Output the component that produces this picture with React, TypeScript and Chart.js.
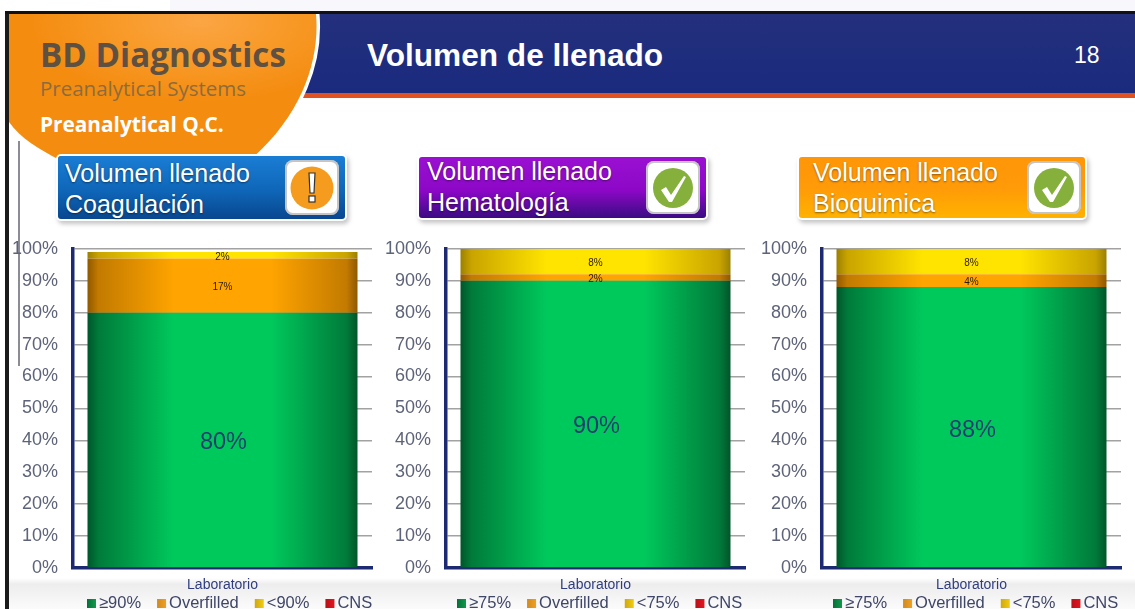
import React, { useEffect, useRef } from "react";
import { Chart, registerables } from "chart.js";

Chart.register(...registerables);

const FONT = '"Liberation Sans", Arial, sans-serif';

const categories = ["Laboratorio"];
const yMax = 100;
const yStep = 10;

const seriesCoag = [80, 17, 2, 0];
const seriesHema = [90, 2, 8, 0];
const seriesBio = [88, 4, 8, 0];

const legendCoag = ["≥90%", "Overfilled", "<90%", "CNS"];
const legendHema = ["≥75%", "Overfilled", "<75%", "CNS"];
const legendBio = ["≥75%", "Overfilled", "<75%", "CNS"];

const panelTitles = ["Coagulación", "Hematología", "Bioquimica"];

const barRim = ["#00552a", "#8f5800", "#9a8000", "#7a0000"];
const barEdge = ["#007a3a", "#c27a00", "#c9a400", "#aa0000"];
const barMid = ["#00c95c", "#ffa400", "#ffe400", "#ee1111"];
const boxDark = ["#06703a", "#d08a20", "#cfa810", "#b81018"];
const boxColors = ["#0f9a4a", "#f0a020", "#f0cc10", "#e41420"];

const BAR_PCT = 0.903;

function barGradient(ctx: any, idx: number) {
  const area = ctx.chart.chartArea;
  if (!area) return barMid[idx];
  const w = (area.right - area.left) * BAR_PCT;
  const c = (area.left + area.right) / 2;
  const g = ctx.chart.ctx.createLinearGradient(c - w / 2, 0, c + w / 2, 0);
  g.addColorStop(0, barRim[idx]);
  g.addColorStop(0.04, barEdge[idx]);
  g.addColorStop(0.32, barMid[idx]);
  g.addColorStop(0.68, barMid[idx]);
  g.addColorStop(0.96, barEdge[idx]);
  g.addColorStop(1, barRim[idx]);
  return g;
}

const valueLabels = {
  id: "valueLabels",
  afterDatasetsDraw(chart: any) {
    const { ctx } = chart;
    ctx.save();
    ctx.textAlign = "center";
    ctx.textBaseline = "middle";
    chart.data.datasets.forEach((ds: any, i: number) => {
      const v = ds.data[0];
      if (!v) return;
      const el = chart.getDatasetMeta(i).data[0];
      const mid = (el.y + el.base) / 2;
      if (i === 0) {
        ctx.font = `23.5px ${FONT}`;
        ctx.fillStyle = "#1c3f70";
        ctx.fillText(`${v}%`, el.x + 1, mid + 3);
      } else {
        ctx.font = `10px ${FONT}`;
        ctx.fillStyle = "#2a1c00";
        ctx.fillText(`${v}%`, el.x, mid + 2);
      }
    });
    ctx.restore();
  },
};

const bottomLegend = {
  id: "bottomLegend",
  afterDraw(chart: any, _a: any, opts: any) {
    const { ctx, chartArea } = chart;
    ctx.save();
    ctx.font = `16.5px ${FONT}`;
    ctx.textBaseline = "middle";
    ctx.textAlign = "left";
    let x = chartArea.left + opts.offset;
    const y = chart.height - 6;
    chart.data.datasets.forEach((ds: any, i: number) => {
      const g = ctx.createLinearGradient(x, 0, x + 9, 0);
      g.addColorStop(0, boxDark[i]);
      g.addColorStop(1, boxColors[i]);
      ctx.fillStyle = g;
      ctx.fillRect(x, y - 4, 9, 9);
      x += 12;
      ctx.fillStyle = "#3f4668";
      ctx.fillText(ds.label, x, y);
      x += ctx.measureText(ds.label).width + 16;
    });
    ctx.restore();
  },
};

function StackChart({
  values,
  legend,
  left,
  legendOffset,
}: {
  values: number[];
  legend: string[];
  left: number;
  legendOffset: number;
}) {
  const ref = useRef<HTMLCanvasElement>(null);
  useEffect(() => {
    const chart = new Chart(ref.current as HTMLCanvasElement, {
      type: "bar",
      data: {
        labels: categories,
        datasets: legend.map((label, i) => ({
          label,
          data: [values[i]],
          backgroundColor: (ctx: any) => barGradient(ctx, i),
          borderWidth: 0,
          barPercentage: BAR_PCT,
          categoryPercentage: 1,
        })),
      },
      options: {
        animation: false,
        responsive: false,
        devicePixelRatio: 1,
        layout: { padding: { top: 2, right: 8, left: 0, bottom: 0 } },
        plugins: {
          legend: { display: false },
          tooltip: { enabled: false },
          bottomLegend: { offset: legendOffset },
        } as any,
        scales: {
          x: {
            stacked: true,
            afterFit: (s: any) => {
              s.height = 41;
            },
            grid: { display: false, drawTicks: false },
            border: { color: "#1d2a72", width: 3.5 },
            ticks: { display: false },
            title: {
              display: true,
              text: categories[0],
              color: "#2f3d80",
              font: { family: FONT, size: 14 },
              padding: { top: 0, bottom: 15.6 },
            },
          },
          y: {
            stacked: true,
            min: 0,
            max: yMax,
            afterFit: (s: any) => {
              s.width = 73;
            },
            grid: { color: "#a2a2a2", lineWidth: 1.5, drawTicks: false },
            border: { color: "#1d2a72", width: 3.5 },
            ticks: {
              stepSize: yStep,
              padding: 15,
              color: "#5d6378",
              font: { family: FONT, size: 18 },
              callback: (v: any) => `${v}%`,
            },
          },
        },
      },
      plugins: [valueLabels, bottomLegend],
    } as any);
    return () => chart.destroy();
  }, []);
  return (
    <canvas
      ref={ref}
      width={380}
      height={386}
      style={{ position: "absolute", left, top: 223, width: 380, height: 386 }}
    />
  );
}

function Check() {
  return (
    <svg width="40" height="40" viewBox="0 0 40 40" style={{ display: "block" }}>
      <circle cx="20" cy="20" r="20" fill="#86b03c" />
      <path d="M8 22 L13 19 L18 27 L31 8 L33 9 L19 34 L16 34 Z" fill="#fff" />
    </svg>
  );
}

function Warn() {
  return (
    <svg width="44" height="44" viewBox="0 0 44 44" style={{ display: "block" }}>
      <circle cx="22" cy="22" r="21.5" fill="#f59b1e" />
      <path d="M19 7 H25 L24 27 H20 Z" fill="#fff" stroke="#333" strokeWidth="1.2" />
      <rect x="19" y="30" width="6" height="6" fill="#fff" stroke="#333" strokeWidth="1.2" />
    </svg>
  );
}

function Panel({
  left,
  top,
  width,
  height,
  bg,
  second,
  icon,
  textLeft,
  iconLeft,
  lineTop,
}: {
  left: number;
  top: number;
  width: number;
  height: number;
  bg: string;
  second: string;
  icon: React.ReactNode;
  textLeft: number;
  iconLeft: number;
  lineTop: number;
}) {
  const lineStyle: React.CSSProperties = {
    position: "absolute",
    left: textLeft,
    fontSize: 25,
    lineHeight: "28px",
    color: "#fff",
    whiteSpace: "nowrap",
    textShadow: "0 1px 2px rgba(0,0,0,0.45)",
  };
  return (
    <div
      style={{
        position: "absolute",
        left,
        top,
        width,
        height,
        background: bg,
        borderRadius: 3,
        boxShadow: "0 0 0 2px #fff, 2px 3px 4px 2px rgba(90,90,90,0.35)",
        fontFamily: FONT,
      }}
    >
      <div style={{ ...lineStyle, top: lineTop }}>Volumen llenado</div>
      <div style={{ ...lineStyle, top: lineTop + 31 }}>{second}</div>
      <div
        style={{
          position: "absolute",
          left: iconLeft,
          top: 4,
          width: 54,
          height: height - 8,
          background: "#fff",
          borderRadius: 8,
          boxShadow: "inset 0 0 0 2px rgba(150,150,150,0.55)",
          display: "flex",
          alignItems: "center",
          justifyContent: "center",
        }}
      >
        {icon}
      </div>
    </div>
  );
}

export default function App() {
  useEffect(() => {
    document.body.style.margin = "0";
    document.body.style.overflow = "hidden";
  }, []);
  return (
    <div
      style={{
        position: "absolute",
        left: 0,
        top: 0,
        width: 1135,
        height: 609,
        overflow: "hidden",
        background: "#fff",
      }}
    >
      <div style={{ position: "absolute", left: 170, top: 0, width: 965, height: 11, background: "#f7f7fc" }} />
      {/* frame */}
      <div style={{ position: "absolute", left: 5, top: 11, width: 1130, height: 3, background: "#111" }} />
      <div style={{ position: "absolute", left: 5, top: 11, width: 4, height: 598, background: "#1a1a1a" }} />
      {/* bottom band */}
      <div
        style={{
          position: "absolute",
          left: 9,
          top: 578,
          width: 1126,
          height: 31,
          background: "linear-gradient(#ffffff, #ededed 20%, #fbfbfb)",
        }}
      />
      {/* banner */}
      <div
        style={{
          position: "absolute",
          left: 300,
          top: 14,
          width: 835,
          height: 79,
          background: "linear-gradient(#24307c, #1a2a7e)",
        }}
      />
      <div style={{ position: "absolute", left: 300, top: 93, width: 835, height: 5, background: "#e0521f" }} />
      {/* orange shape */}
      <svg width="340" height="180" style={{ position: "absolute", left: 0, top: 0 }}>
        <defs>
          <radialGradient id="og" cx="0.62" cy="0.05" r="0.55">
            <stop offset="0" stopColor="#fba544" />
            <stop offset="0.5" stopColor="#f89a28" />
            <stop offset="1" stopColor="#f48c10" />
          </radialGradient>
        </defs>
        <path
          d="M316 14 C320 60 302 115 250 160"
          fill="none"
          stroke="#fff"
          strokeWidth="7"
        />
        <path
          d="M9 14 H316 C320 60 302 115 250 160 H60 C40 150 20 138 9 122 Z"
          fill="url(#og)"
        />
      </svg>
      <div style={{ position: "absolute", left: 5, top: 11, width: 320, height: 3, background: "#111" }} />
      <div
        style={{
          position: "absolute",
          left: 40,
          top: 33,
          fontFamily: '"Open Sans", sans-serif',
          fontWeight: 700,
          fontSize: 33.2,
          lineHeight: "44px",
          color: "#5f5142",
          whiteSpace: "nowrap",
        }}
      >
        BD Diagnostics
      </div>
      <div
        style={{
          position: "absolute",
          left: 40,
          top: 74,
          fontFamily: '"Open Sans", sans-serif',
          fontSize: 20.5,
          lineHeight: "28px",
          color: "#8c6c3c",
          whiteSpace: "nowrap",
        }}
      >
        Preanalytical Systems
      </div>
      <div
        style={{
          position: "absolute",
          left: 40,
          top: 111,
          fontFamily: '"Open Sans", sans-serif',
          fontWeight: 700,
          fontSize: 20.8,
          lineHeight: "26px",
          color: "#fff",
          whiteSpace: "nowrap",
        }}
      >
        Preanalytical Q.C.
      </div>
      <div
        style={{
          position: "absolute",
          left: 367,
          top: 36,
          fontFamily: FONT,
          fontWeight: 700,
          fontSize: 31.6,
          lineHeight: "38px",
          color: "#fff",
          whiteSpace: "nowrap",
        }}
      >
        Volumen de llenado
      </div>
      <div
        style={{
          position: "absolute",
          left: 1074,
          top: 41,
          fontFamily: FONT,
          fontSize: 23,
          lineHeight: "28px",
          color: "#fff",
        }}
      >
        18
      </div>
      {/* left gray rule */}
      <div style={{ position: "absolute", left: 18, top: 141, width: 2, height: 225, background: "#8c8c94" }} />

      <Panel
        left={58}
        top={156}
        width={287}
        height={63}
        bg="linear-gradient(#1a7dd4, #0f66b8 55%, #08478f)"
        second={panelTitles[0]}
        icon={<Warn />}
        textLeft={7}
        iconLeft={227}
        lineTop={3}
      />
      <Panel
        left={419}
        top={157}
        width={287}
        height={61}
        bg="linear-gradient(#9a10d2, #8c08c6 55%, #3a0c82)"
        second={panelTitles[1]}
        icon={<Check />}
        textLeft={8}
        iconLeft={227}
        lineTop={0}
      />
      <Panel
        left={799}
        top={157}
        width={286}
        height={61}
        bg="linear-gradient(#ff9608, #ff9a08 50%, #ffb200)"
        second={panelTitles[2]}
        icon={<Check />}
        textLeft={14}
        iconLeft={228}
        lineTop={1}
      />

      <StackChart values={seriesCoag} legend={legendCoag} left={0} legendOffset={14} />
      <StackChart values={seriesHema} legend={legendHema} left={373} legendOffset={11} />
      <StackChart values={seriesBio} legend={legendBio} left={749} legendOffset={11} />
    </div>
  );
}
